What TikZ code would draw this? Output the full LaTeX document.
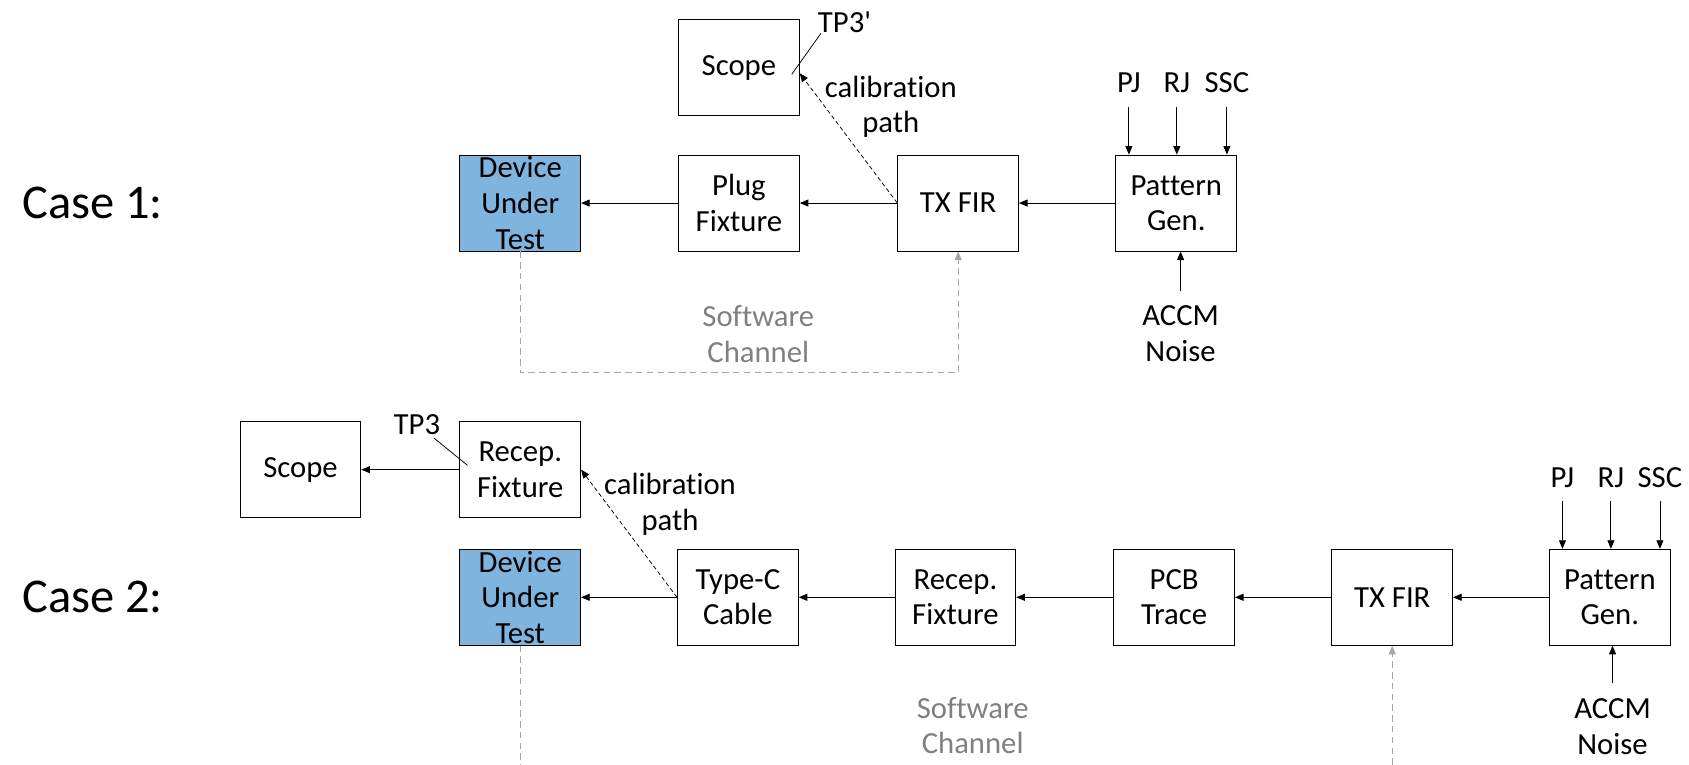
\documentclass[tikz,border=0pt]{standalone}
\usepackage{fontspec}
% Carlito without ligatures or quote mapping, so "ti" and ' stay plain
\newfontfamily\diagfont{Carlito}[Ligatures=NoCommon]
\usetikzlibrary{arrows.meta,calc}
\definecolor{dutblue}{RGB}{127,180,222}
\definecolor{swgray}{RGB}{166,166,166}
\definecolor{swtext}{RGB}{128,128,128}

\begin{document}
\begin{tikzpicture}[x=1pt,y=-1pt,
  every node/.style={font=\diagfont\fontsize{28.5}{33}\selectfont},
  blk/.style={draw, line width=0.9pt, minimum width=112pt, minimum height=89pt, inner sep=0pt, align=center},
  dutbox/.style={blk, fill=dutblue},
  lbl/.style={inner sep=0pt, align=center},
  casetxt/.style={inner sep=0pt, font=\diagfont\fontsize{45}{54}\selectfont},
  tip/.style={-{Triangle[length=8pt,width=6.5pt]}},
  sig/.style={line width=0.8pt, tip},
  calib/.style={line width=0.7pt, dash pattern=on 4pt off 2.5pt, tip},
  swpath/.style={swgray, line width=1pt, dash pattern=on 6pt off 4pt},
  swlbl/.style={lbl, text=swtext},
  probe/.style={line width=0.7pt}
]
\useasboundingbox (0,0) rectangle (1568,710);
\coordinate (bot) at (0,710);

% ---------------- Case 1 ----------------
\node[casetxt] (case1) at (86,188) {Case 1:};

\node[blk] (scope1) at (686,63) {Scope};
\node[dutbox] (dut1) at (483,188.5) {};
\node[lbl] (dut1t) at (dut1) {Device\\Under\\Test};
\node[blk] (plug) at (686,188.5) {Plug\\Fixture};
\node[blk] (fir1) at (889.5,188.5) {TX FIR};
\node[blk] (pg1) at (1092,188.5) {Pattern\\Gen.};

\draw[sig] (pg1.west) -- (fir1.east);
\draw[sig] (fir1.west) -- (plug.east);
\draw[sig] (plug.west) -- (dut1.east);

% jitter and noise sources
\node[lbl, anchor=base] (pj1) at (1048,86) {PJ};
\node[lbl, anchor=base] (rj1) at (1092.5,86) {RJ};
\node[lbl, anchor=base] (ssc1) at (1139,86) {SSC};
\draw[sig] ([yshift=-13pt]pj1.base) -- (pj1.base |- pg1.north);
\draw[sig] ([yshift=-13pt]rj1.base) -- (rj1.base |- pg1.north);
\draw[sig] ([yshift=-13pt]ssc1.base) -- (ssc1.base |- pg1.north);
\node[lbl] (accm1) at (1096,309.5) {ACCM\\Noise};
\draw[sig] ([yshift=13pt]accm1.north) -- (accm1.north |- pg1.south);

% calibration path and probe point
\draw[calib] (fir1.west) -- ([yshift=-5pt]scope1.east);
\node[lbl] (cal1) at (827,99) {calibration\\path};
\node[lbl] (tp1) at (784,21) {TP3'};
\coordinate (tap1) at ($(scope1.center)+(49,6)$);
\draw[probe] ([xshift=3pt]tp1.south west) -- (tap1);

% software channel loop
\coordinate (sw1) at (0,346);
\draw[swpath, tip] (dut1.south) -- (dut1.south |- sw1) -| (fir1.south);
\node[swlbl] (swc1) at (704,310) {Software\\Channel};

% ---------------- Case 2 ----------------
\node[casetxt] (case2) at (86,554) {Case 2:};

\node[blk] (scope2) at (279,436) {Scope};
\node[blk] (rec1) at (483,436) {Recep.\\Fixture};
\node[dutbox] (dut2) at (483,554.5) {};
\node[lbl] (dut2t) at (dut2) {Device\\Under\\Test};
\node[blk] (typec) at (685,554.5) {Type-C\\Cable};
\node[blk] (rec2) at (887,554.5) {Recep.\\Fixture};
\node[blk] (pcb) at (1090,554.5) {PCB\\Trace};
\node[blk] (fir2) at (1292.5,554.5) {TX FIR};
\node[blk] (pg2) at (1494.5,554.5) {Pattern\\Gen.};

\draw[sig] (rec1.west) -- (scope2.east);
\draw[sig] (pg2.west) -- (fir2.east);
\draw[sig] (fir2.west) -- (pcb.east);
\draw[sig] (pcb.west) -- (rec2.east);
\draw[sig] (rec2.west) -- (typec.east);
\draw[sig] (typec.west) -- (dut2.east);

% jitter and noise sources
\node[lbl, anchor=base] (pj2) at (1450.5,453) {PJ};
\node[lbl, anchor=base] (rj2) at (1495.5,453) {RJ};
\node[lbl, anchor=base] (ssc2) at (1541,453) {SSC};
\draw[sig] ([yshift=-12pt]pj2.base) -- (pj2.base |- pg2.north);
\draw[sig] ([yshift=-12pt]rj2.base) -- (rj2.base |- pg2.north);
\draw[sig] ([yshift=-12pt]ssc2.base) -- (ssc2.base |- pg2.north);
\node[lbl] (accm2) at (1497,674.5) {ACCM\\Noise};
\draw[sig] ([yshift=14pt]accm2.north) -- (accm2.north |- pg2.south);

% calibration path and probe point
\draw[calib] (typec.west) -- (rec1.east);
\node[lbl] (cal2) at (622,468) {calibration\\path};
\node[lbl] (tp2) at (387,394) {TP3};
\coordinate (tap2) at ($(rec1.center)+(-49,-4)$);
\draw[probe] ([shift={(-6,3)}]tp2.south east) -- (tap2);

% software channel legs
\draw[swpath] (dut2.south) -- (dut2.south |- bot);
\draw[swpath, tip] (fir2.south |- bot) -- (fir2.south);
\node[swlbl] (swc2) at (903,673.5) {Software\\Channel};
\end{tikzpicture}
\end{document}
